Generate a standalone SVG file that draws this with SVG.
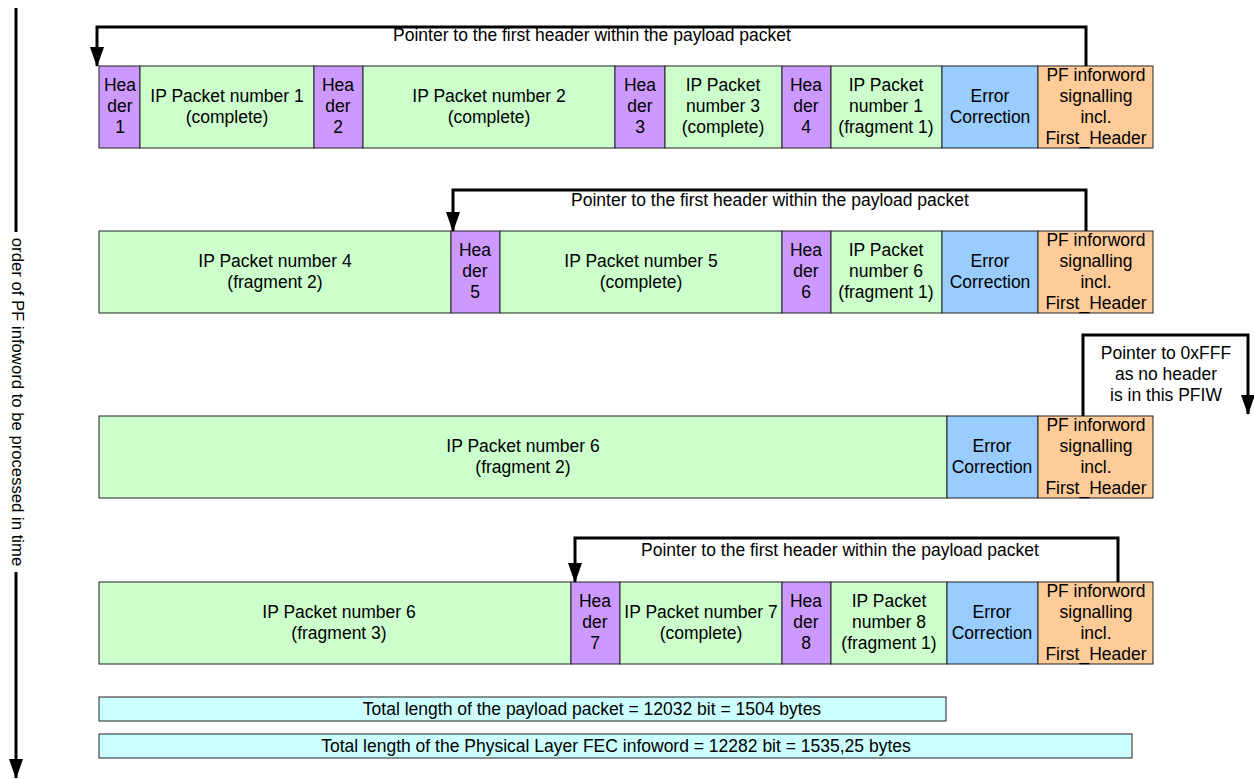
<svg xmlns="http://www.w3.org/2000/svg" width="1254" height="780" viewBox="0 0 1254 780">
<defs>
<marker id="ah" markerWidth="20" markerHeight="14" refX="19" refY="7" orient="auto" markerUnits="userSpaceOnUse" viewBox="0 0 20 14">
<path d="M0,0 L20,7 L0,14 Z" fill="#000"/>
</marker>
<style>
text{font-family:"Liberation Sans",Arial,sans-serif;font-size:17.5px;fill:#000;text-anchor:middle}
.b{stroke:#222;stroke-width:1}
.g{fill:#CCFFCC}.h{fill:#CC99FF}.e{fill:#99CCFF}.p{fill:#FFCC99}.c{fill:#CCFFFF}
.ln{fill:none;stroke:#000;stroke-width:3}
.v{font-size:16.7px}
</style>
</defs>
<rect width="1254" height="780" fill="#fff"/>

<!-- Row 1 -->
<g id="r1h1"><rect class="b h" x="99" y="66" width="41" height="82"/><text x="120" y="91">Hea</text><text x="120" y="112">der</text><text x="120" y="133">1</text></g>
<g id="r1ip1"><rect class="b g" x="140" y="66" width="174" height="82"/><text x="227" y="102">IP Packet number 1</text><text x="227" y="123">(complete)</text></g>
<g id="r1h2"><rect class="b h" x="314" y="66" width="49" height="82"/><text x="338" y="91">Hea</text><text x="338" y="112">der</text><text x="338" y="133">2</text></g>
<g id="r1ip2"><rect class="b g" x="363" y="66" width="252" height="82"/><text x="489" y="102">IP Packet number 2</text><text x="489" y="123">(complete)</text></g>
<g id="r1h3"><rect class="b h" x="615" y="66" width="50" height="82"/><text x="640" y="91">Hea</text><text x="640" y="112">der</text><text x="640" y="133">3</text></g>
<g id="r1ip3"><rect class="b g" x="665" y="66" width="117" height="82"/><text x="723" y="91">IP Packet</text><text x="723" y="112">number 3</text><text x="723" y="133">(complete)</text></g>
<g id="r1h4"><rect class="b h" x="782" y="66" width="49" height="82"/><text x="806" y="91">Hea</text><text x="806" y="112">der</text><text x="806" y="133">4</text></g>
<g id="r1ip4"><rect class="b g" x="831" y="66" width="111" height="82"/><text x="886" y="91">IP Packet</text><text x="886" y="112">number 1</text><text x="886" y="133">(fragment 1)</text></g>
<g id="r1ec"><rect class="b e" x="942" y="66" width="96" height="82"/><text x="990" y="102">Error</text><text x="990" y="123">Correction</text></g>
<g id="r1pf"><rect class="b p" x="1038" y="66" width="115" height="82"/><text x="1096" y="81">PF inforword</text><text x="1096" y="102">signalling</text><text x="1096" y="123">incl.</text><text x="1096" y="144">First_Header</text></g>

<!-- Row 2 -->
<g id="r2ip4"><rect class="b g" x="99" y="231" width="352" height="82"/><text x="275" y="267">IP Packet number 4</text><text x="275" y="288">(fragment 2)</text></g>
<g id="r2h5"><rect class="b h" x="451" y="231" width="49" height="82"/><text x="475" y="256">Hea</text><text x="475" y="277">der</text><text x="475" y="298">5</text></g>
<g id="r2ip5"><rect class="b g" x="500" y="231" width="282" height="82"/><text x="641" y="267">IP Packet number 5</text><text x="641" y="288">(complete)</text></g>
<g id="r2h6"><rect class="b h" x="782" y="231" width="49" height="82"/><text x="806" y="256">Hea</text><text x="806" y="277">der</text><text x="806" y="298">6</text></g>
<g id="r2ip6"><rect class="b g" x="831" y="231" width="111" height="82"/><text x="886" y="256">IP Packet</text><text x="886" y="277">number 6</text><text x="886" y="298">(fragment 1)</text></g>
<g id="r2ec"><rect class="b e" x="942" y="231" width="96" height="82"/><text x="990" y="267">Error</text><text x="990" y="288">Correction</text></g>
<g id="r2pf"><rect class="b p" x="1038" y="231" width="115" height="82"/><text x="1096" y="246">PF inforword</text><text x="1096" y="267">signalling</text><text x="1096" y="288">incl.</text><text x="1096" y="309">First_Header</text></g>

<!-- Row 3 -->
<g id="r3ip6"><rect class="b g" x="99" y="416" width="848" height="82"/><text x="523" y="452">IP Packet number 6</text><text x="523" y="473">(fragment 2)</text></g>
<g id="r3ec"><rect class="b e" x="947" y="416" width="91" height="82"/><text x="992" y="452">Error</text><text x="992" y="473">Correction</text></g>
<g id="r3pf"><rect class="b p" x="1038" y="416" width="115" height="82"/><text x="1096" y="431">PF inforword</text><text x="1096" y="452">signalling</text><text x="1096" y="473">incl.</text><text x="1096" y="494">First_Header</text></g>

<!-- Row 4 -->
<g id="r4ip6"><rect class="b g" x="99" y="582" width="472" height="82"/><text x="339" y="618">IP Packet number 6</text><text x="339" y="639">(fragment 3)</text></g>
<g id="r4h7"><rect class="b h" x="571" y="582" width="49" height="82"/><text x="595" y="607">Hea</text><text x="595" y="628">der</text><text x="595" y="649">7</text></g>
<g id="r4ip7"><rect class="b g" x="620" y="582" width="162" height="82"/><text x="701" y="618">IP Packet number 7</text><text x="701" y="639">(complete)</text></g>
<g id="r4h8"><rect class="b h" x="782" y="582" width="49" height="82"/><text x="806" y="607">Hea</text><text x="806" y="628">der</text><text x="806" y="649">8</text></g>
<g id="r4ip8"><rect class="b g" x="831" y="582" width="116" height="82"/><text x="889" y="607">IP Packet</text><text x="889" y="628">number 8</text><text x="889" y="649">(fragment 1)</text></g>
<g id="r4ec"><rect class="b e" x="947" y="582" width="91" height="82"/><text x="992" y="618">Error</text><text x="992" y="639">Correction</text></g>
<g id="r4pf"><rect class="b p" x="1038" y="582" width="115" height="82"/><text x="1096" y="597">PF inforword</text><text x="1096" y="618">signalling</text><text x="1096" y="639">incl.</text><text x="1096" y="660">First_Header</text></g>

<!-- Totals -->
<g id="total1"><rect class="b c" x="99" y="697" width="847" height="24"/><text x="592" y="715">Total length of the payload packet = 12032 bit = 1504 bytes</text></g>
<g id="total2"><rect class="b c" x="99" y="734" width="1033" height="24"/><text x="616" y="752">Total length of the Physical Layer FEC infoword = 12282 bit = 1535,25 bytes</text></g>

<!-- Connectors -->
<g id="connectors">
<path class="ln" d="M1086,66 V27 H97 V66" marker-end="url(#ah)"/>
<path class="ln" d="M1086,231 V190 H453 V231" marker-end="url(#ah)"/>
<path class="ln" d="M1083,416 V335 H1248 V414" marker-end="url(#ah)"/>
<path class="ln" d="M1118,582 V538 H575 V582" marker-end="url(#ah)"/>
<path class="ln" d="M16,8 V232"/>
<path class="ln" d="M16,572 V778" marker-end="url(#ah)"/>
</g>
<g id="labels">
<text x="592" y="41">Pointer to the first header within the payload packet</text>
<text x="770" y="206">Pointer to the first header within the payload packet</text>
<text x="1166" y="359">Pointer to 0xFFF</text>
<text x="1166" y="380">as no header</text>
<text x="1166" y="401">is in this PFIW</text>
<text x="840" y="556">Pointer to the first header within the payload packet</text>
<text class="v" transform="translate(12,402) rotate(90)">order of PF infoword to be processed in time</text>
</g>
</svg>
